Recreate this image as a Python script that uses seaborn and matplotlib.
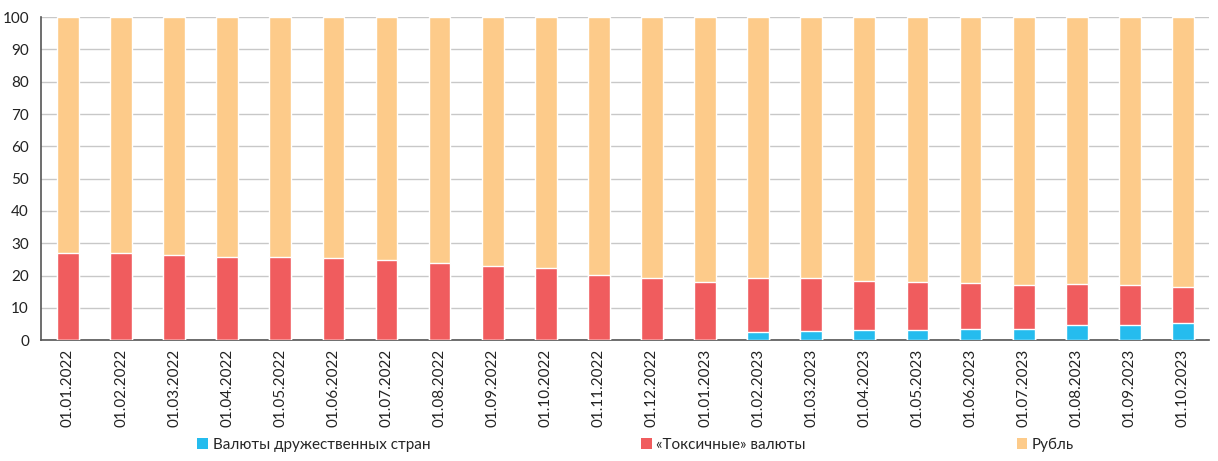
import matplotlib
matplotlib.use("Agg")
import matplotlib.pyplot as plt
import seaborn as sns
import pandas as pd
import numpy as np
from matplotlib.patches import Patch

dates = ["01.01.2022", "01.02.2022", "01.03.2022", "01.04.2022", "01.05.2022", "01.06.2022",
         "01.07.2022", "01.08.2022", "01.09.2022", "01.10.2022", "01.11.2022", "01.12.2022",
         "01.01.2023", "01.02.2023", "01.03.2023", "01.04.2023", "01.05.2023", "01.06.2023",
         "01.07.2023", "01.08.2023", "01.09.2023", "01.10.2023"]
friendly = [0, 0, 0, 0, 0, 0, 0, 0, 0, 0, 0, 0, 0,
            2.6, 2.9, 3.1, 3.1, 3.5, 3.6, 4.6, 4.8, 5.2]
toxic = [26.9, 27.1, 26.4, 25.8, 25.8, 25.5, 24.8, 23.9, 22.9, 22.2, 20.1, 19.3, 17.9,
         16.8, 16.4, 15.3, 14.8, 14.1, 13.6, 12.8, 12.3, 11.3]
ruble = [100 - f - t for f, t in zip(friendly, toxic)]

labels = ["Валюты дружественных стран", "«Токсичные» валюты", "Рубль"]
colors = ["#25BCEE", "#F05C5E", "#FDCB8A"]

df = pd.DataFrame({"date": dates, "friendly": friendly, "toxic": toxic, "ruble": ruble})
df["top2"] = df["friendly"] + df["toxic"]
df["top3"] = df["top2"] + df["ruble"]

sns.set_style("white")
plt.rcParams["font.family"] = ["Lato", "DejaVu Sans"]

fig = plt.figure(figsize=(12.18, 4.61), dpi=100)
ax = fig.add_axes([0.034, 0.262, 0.959, 0.701])

w = 0.41
sns.barplot(data=df, x="date", y="top3", color=colors[2], width=w, ax=ax, saturation=1, zorder=3)
sns.barplot(data=df, x="date", y="top2", color=colors[1], width=w, ax=ax, saturation=1, zorder=3)
sns.barplot(data=df, x="date", y="friendly", color=colors[0], width=w, ax=ax, saturation=1, zorder=3)

ax.set_ylim(0, 100)
ax.set_xlim(-0.5, len(dates) - 0.5)
ax.set_yticks(range(0, 101, 10))
ax.yaxis.grid(True, color="#C8C8C8", linewidth=1, zorder=0)
ax.set_axisbelow(True)
ax.set_xlabel("")
ax.set_ylabel("")

ax.set_xticks(np.arange(len(dates)))
ax.set_xticklabels(dates, rotation=90, fontsize=11, color="#222222")
ax.tick_params(axis="x", length=0, pad=6)
ax.set_xticks(np.arange(len(dates) + 1) - 0.5, minor=True)
ax.tick_params(axis="x", which="minor", length=5, color="#555555", width=1)
ax.tick_params(axis="y", labelsize=11, length=5, color="#555555", width=1, labelcolor="#222222", pad=4)

for s in ["top", "right"]:
    ax.spines[s].set_visible(False)
for s in ["left", "bottom"]:
    ax.spines[s].set_color("#555555")
    ax.spines[s].set_linewidth(1.2)

handles = [Patch(facecolor=c, edgecolor="none") for c in colors]
fig.legend(handles, labels, loc="lower center", bbox_to_anchor=(0.522, -0.01), ncol=3,
           frameon=False, fontsize=11, handlelength=0.7, handleheight=0.7,
           handletextpad=0.3, columnspacing=13.8)

fig.savefig("out.png", dpi=100)
